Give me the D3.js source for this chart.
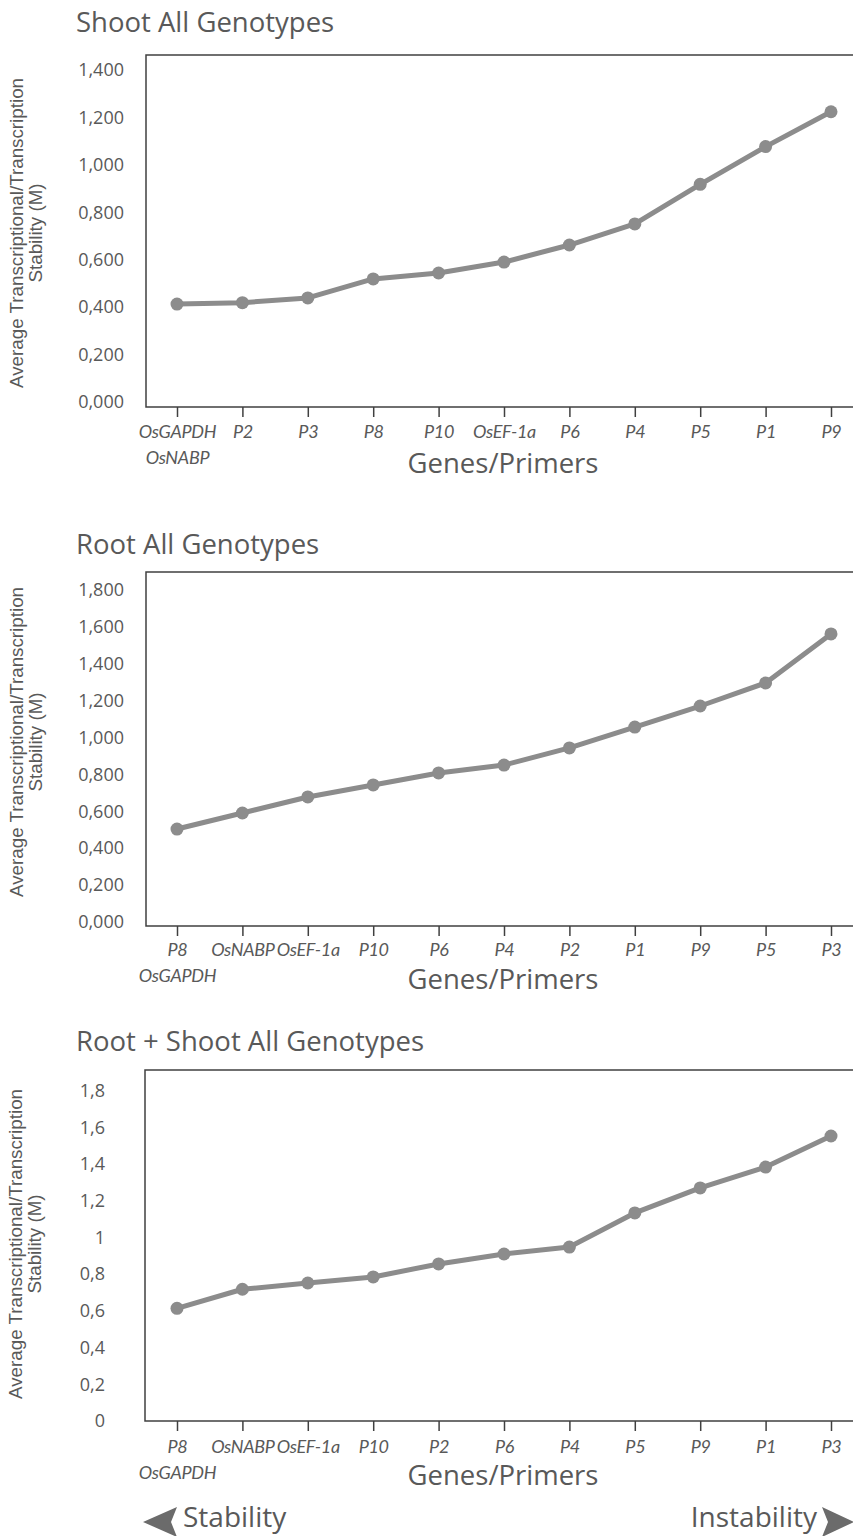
<!DOCTYPE html>
<html>
<head>
<meta charset="utf-8">
<script src="https://cdn.jsdelivr.net/npm/d3@7"></script>
<style>
  body { margin: 0; background: #fff; }
  svg { display: block; }
</style>
</head>
<body>
<div id="chart"></div>
<script>
// data (geNorm style M values)
var shootCats = ["OsGAPDH\nOsNABP", "P2", "P3", "P8", "P10", "OsEF-1a", "P6", "P4", "P5", "P1", "P9"];
var shootValues = [0.413, 0.419, 0.439, 0.519, 0.544, 0.590, 0.662, 0.751, 0.918, 1.077, 1.224];
var shootTicks = [0, 0.2, 0.4, 0.6, 0.8, 1.0, 1.2, 1.4];

var rootCats = ["P8\nOsGAPDH", "OsNABP", "OsEF-1a", "P10", "P6", "P4", "P2", "P1", "P9", "P5", "P3"];
var rootValues = [0.504, 0.591, 0.678, 0.743, 0.808, 0.851, 0.944, 1.057, 1.171, 1.296, 1.562];
var rootTicks = [0, 0.2, 0.4, 0.6, 0.8, 1.0, 1.2, 1.4, 1.6, 1.8];

var bothCats = ["P8\nOsGAPDH", "OsNABP", "OsEF-1a", "P10", "P2", "P6", "P4", "P5", "P9", "P1", "P3"];
var bothValues = [0.614, 0.718, 0.752, 0.785, 0.856, 0.910, 0.948, 1.134, 1.270, 1.384, 1.553];
var bothTicks = [0, 0.2, 0.4, 0.6, 0.8, 1.0, 1.2, 1.4, 1.6, 1.8];

var textColor = "#595959";
var lineColor = "#8c8c8c";
var commaLocale = d3.formatLocale({decimal: ",", thousands: ".", grouping: [3], currency: ["", ""]});

var svg = d3.select("#chart")
  .append("svg")
  .attr("width", 853)
  .attr("height", 1536);

function drawChart(opt) {
  var g = svg.append("g");

  var x = d3.scalePoint()
    .domain(opt.cats)
    .range([177, 831]);

  var y = d3.scaleLinear()
    .domain([0, opt.ticks[opt.ticks.length - 1]])
    .range([opt.zeroY, opt.topY]);

  // title
  g.append("text")
    .attr("x", 76)
    .attr("y", opt.titleY)
    .style("font", "27.5px 'Open Sans'")
    .attr("fill", textColor)
    .text(opt.title);

  // plot frame (left + top, right side runs off the page)
  g.append("path")
    .attr("d", `M870,${opt.boxTop}H${opt.left}V${opt.axisY}H870`)
    .attr("fill", "none")
    .attr("stroke", "#404040")
    .attr("stroke-width", 1.5);

  // y axis labels
  var yAxis = d3.axisLeft(y)
    .tickValues(opt.ticks)
    .tickSize(0)
    .tickPadding(opt.left - opt.labelRight)
    .tickFormat(commaLocale.format(opt.fmt));

  var yg = g.append("g")
    .attr("transform", `translate(${opt.left},0)`)
    .call(yAxis);
  yg.select(".domain").remove();
  yg.selectAll("text")
    .style("font", "18px 'Open Sans'")
    .attr("fill", textColor);

  // x axis
  var xAxis = d3.axisBottom(x).tickSize(10).tickSizeOuter(0);
  var xg = g.append("g")
    .attr("transform", `translate(0,${opt.axisY})`)
    .call(xAxis);
  xg.select(".domain").remove();
  xg.selectAll("line").attr("stroke", "#404040").attr("stroke-width", 1.5);
  xg.selectAll("text")
    .style("font", "italic 18px Lato")
    .style("letter-spacing", "-0.3px")
    .attr("fill", textColor)
    .attr("y", opt.tickTextY)
    .attr("dy", null)
    .each(function(d) {
      var t = d3.select(this);
      var lines = d.split("\n");
      t.text(null);
      lines.forEach(function(l, i) {
        t.append("tspan")
          .attr("x", 0)
          .attr("dy", i === 0 ? "0.35em" : "1.45em")
          .text(l);
      });
    });

  g.append("text")
    .attr("x", 503)
    .attr("y", opt.axisY + opt.xTitleDy)
    .attr("text-anchor", "middle")
    .style("font", "27.5px 'Open Sans'")
    .attr("fill", textColor)
    .text("Genes/Primers");

  // y axis title, two lines
  var yt = g.append("text")
    .attr("transform", `translate(0,${opt.yTitleY}) rotate(-90)`)
    .attr("text-anchor", "middle")
    .style("font", "18.8px 'Liberation Sans'")
    .attr("fill", textColor);
  yt.append("tspan").attr("x", 0).attr("y", opt.yTitleX1 + 6).text("Average Transcriptional/Transcription");
  yt.append("tspan").attr("x", 0).attr("y", opt.yTitleX1 + 25).text("Stability (M)");

  // line + points
  var line = d3.line()
    .x(function(d, i) { return x(opt.cats[i]); })
    .y(function(d) { return y(d); });

  g.append("path")
    .datum(opt.values)
    .attr("d", line)
    .attr("fill", "none")
    .attr("stroke", lineColor)
    .attr("stroke-width", 5)
    .attr("stroke-linejoin", "round");

  g.selectAll("circle")
    .data(opt.values)
    .enter()
    .append("circle")
    .attr("cx", function(d, i) { return x(opt.cats[i]); })
    .attr("cy", function(d) { return y(d); })
    .attr("r", 6.5)
    .attr("fill", lineColor);
}

drawChart({
  title: "Shoot All Genotypes", cats: shootCats, values: shootValues, ticks: shootTicks,
  fmt: ".3f", titleY: 32, boxTop: 55, zeroY: 402, topY: 70, axisY: 407, left: 146,
  labelRight: 124, tickTextY: 25, xTitleDy: 66, yTitleY: 233, yTitleX1: 17
});

drawChart({
  title: "Root All Genotypes", cats: rootCats, values: rootValues, ticks: rootTicks,
  fmt: ".3f", titleY: 554, boxTop: 572, zeroY: 922, topY: 590, axisY: 926, left: 146,
  labelRight: 124, tickTextY: 24, xTitleDy: 63, yTitleY: 742, yTitleX1: 17
});

drawChart({
  title: "Root + Shoot All Genotypes", cats: bothCats, values: bothValues, ticks: bothTicks,
  fmt: "~g", titleY: 1051, boxTop: 1070, zeroY: 1421, topY: 1090.7, axisY: 1421, left: 145,
  labelRight: 105, tickTextY: 26, xTitleDy: 64, yTitleY: 1244, yTitleX1: 16
});

// stability / instability arrows
svg.append("path")
  .attr("d", "M143,1522L177,1507L171,1522L177,1537Z")
  .attr("fill", "#6b6b6b");
svg.append("text")
  .attr("x", 183)
  .attr("y", 1527)
  .style("font", "28px 'Open Sans'")
  .attr("fill", textColor)
  .text("Stability");

svg.append("path")
  .attr("d", "M854,1522L822,1507L828,1522L822,1537Z")
  .attr("fill", "#6b6b6b");
svg.append("text")
  .attr("x", 817)
  .attr("y", 1527)
  .attr("text-anchor", "end")
  .style("font", "28px 'Open Sans'")
  .attr("fill", textColor)
  .text("Instability");
</script>
</body>
</html>
